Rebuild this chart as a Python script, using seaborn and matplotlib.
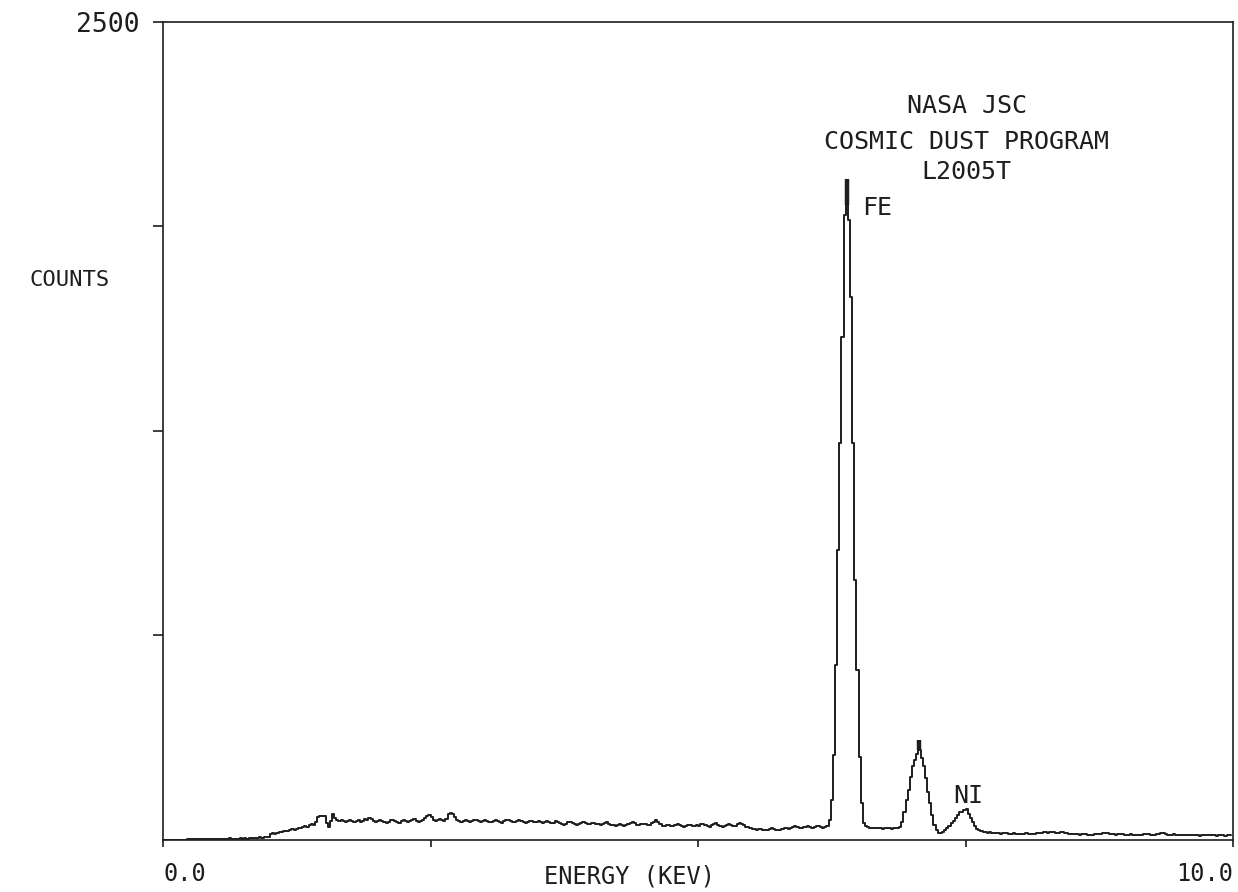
import numpy as np
import pandas as pd
import seaborn as sns
import matplotlib
matplotlib.use("Agg")
import matplotlib.pyplot as plt

# EDS spectrum, 20 eV channels from 0.00 to 9.98 keV
counts = [
    0, 0, 0, 0, 0, 0, 0, 0, 0, 0, 1, 2, 3, 3, 2, 3, 4, 3, 3, 2, 3, 3, 4, 3, 3,
    3, 4, 3, 4, 3, 4, 5, 4, 3, 4, 4, 5, 4, 5, 4, 5, 6, 5, 6, 7, 8, 7, 9, 10, 9,
    18, 20, 19, 22, 24, 23, 26, 28, 27, 30, 33, 31, 35, 38, 36, 40, 43, 41, 46, 49, 47, 55, 70, 74, 73,
    72, 52, 40, 58, 80, 66, 60, 57, 61, 58, 55, 59, 62, 57, 55, 58, 60, 56, 59, 63, 61, 66, 64, 58, 55,
    57, 60, 58, 55, 52, 56, 60, 62, 58, 54, 53, 57, 60, 58, 55, 57, 61, 63, 59, 56, 58, 62, 66, 72, 76,
    70, 60, 58, 62, 64, 60, 58, 65, 78, 82, 80, 70, 62, 58, 55, 57, 60, 58, 56, 59, 62, 60, 57, 55, 58,
    60, 57, 54, 56, 59, 61, 58, 55, 53, 57, 60, 62, 59, 56, 54, 57, 61, 58, 55, 53, 56, 59, 57, 54, 56,
    58, 55, 53, 56, 58, 54, 51, 53, 57, 55, 52, 48, 47, 50, 54, 56, 52, 49, 47, 50, 53, 55, 51, 48, 50,
    51, 53, 50, 48, 46, 49, 52, 54, 50, 47, 45, 44, 46, 48, 45, 43, 46, 50, 53, 55, 51, 47, 45, 48, 50,
    48, 45, 47, 52, 56, 60, 55, 48, 44, 42, 45, 47, 44, 42, 45, 48, 46, 43, 41, 44, 47, 45, 42, 44, 46,
    44, 48, 50, 46, 43, 41, 45, 49, 51, 47, 43, 40, 42, 46, 48, 45, 42, 44, 48, 52, 50, 45, 41, 39, 37,
    35, 33, 31, 33, 35, 32, 30, 31, 34, 36, 33, 31, 30, 32, 35, 38, 36, 34, 37, 40, 43, 41, 38, 36, 39,
    41, 43, 40, 38, 41, 44, 42, 39, 37, 40, 43, 61, 122, 260, 535, 886, 1213, 1537, 1910, 1940, 1895, 1659, 1213, 795, 520,
    254, 113, 52, 43, 40, 38, 37, 36, 38, 37, 36, 35, 37, 38, 36, 35, 37, 38, 37, 40, 55, 86, 122, 153, 193,
    226, 244, 263, 275, 250, 226, 189, 147, 113, 76, 46, 31, 21, 21, 24, 31, 37, 43, 52, 58, 67, 76, 86, 86, 92,
    95, 80, 67, 55, 43, 34, 31, 28, 25, 24, 22, 23, 21, 20, 22, 21, 19, 20, 22, 21, 19, 18, 20, 19, 18,
    18, 17, 19, 20, 19, 18, 17, 19, 21, 20, 22, 24, 23, 22, 24, 25, 23, 22, 21, 23, 24, 22, 20, 19, 18,
    17, 18, 17, 16, 17, 18, 17, 16, 15, 16, 17, 18, 17, 19, 20, 22, 21, 19, 18, 17, 16, 17, 18, 17, 16,
    15, 16, 17, 16, 15, 14, 15, 16, 17, 18, 17, 16, 15, 16, 17, 19, 21, 20, 18, 16, 15, 16, 17, 16, 15,
    14, 15, 16, 15, 14, 15, 16, 15, 14, 13, 14, 15, 16, 15, 14, 15, 14, 13, 14, 15, 14, 13, 14, 15, 14,
]
channel_kev = 0.02

# peak markers (thick bars on top of the peaks)
marker_kev = [6.39, 7.07]
marker_top = [2020, 306]
marker_base = [1940, 275]

peak_labels = ["FE", "NI"]
peak_label_kev = [6.53, 7.39]
peak_label_counts = [1931, 134]

title_lines = ["NASA JSC", "COSMIC DUST PROGRAM", "L2005T"]
title_counts = [2243, 2133, 2041]

spec = pd.DataFrame({"energy": np.arange(len(counts)) * channel_kev, "counts": counts})

sns.set_style("ticks")
plt.rcParams["font.family"] = ["DejaVu Sans Mono", "DejaVu Sans"]
ink = "#1e1e1e"

fig = plt.figure(figsize=(12.38, 8.92), dpi=100)
ax = fig.add_axes([163 / 1238, 1 - 840 / 892, 1070 / 1238, (840 - 21.7) / 892])

sns.lineplot(data=spec, x="energy", y="counts", ax=ax, color=ink,
             linewidth=1.4, drawstyle="steps-post", estimator=None)
ax.vlines(marker_kev, marker_base, marker_top, color=ink, linewidth=3.2)

ax.set_xlim(0, 10)
ax.set_ylim(0, 2500)

ax.set_xticks([0, 2.5, 5, 7.5, 10])
ax.set_xticklabels(["0.0", "", "", "", "10.0"])
ax.set_yticks([625, 1250, 1875, 2500])
ax.set_yticklabels(["", "", "", "2500"])
ax.tick_params(axis="y", direction="out", length=7, width=1.2, pad=10,
               labelsize=19, colors=ink)
ax.tick_params(axis="x", direction="out", length=5, width=1.2, pad=11,
               labelsize=17, colors=ink)
xl = ax.get_xticklabels()
xl[0].set_horizontalalignment("left")
xl[-1].set_horizontalalignment("right")

for s in ax.spines.values():
    s.set_visible(True)
    s.set_color(ink)
    s.set_linewidth(1.2)

ax.set_xlabel("ENERGY (KEV)", fontsize=17, color=ink, va="center")
ax.xaxis.set_label_coords(0.436, -0.045)
ax.set_ylabel("COUNTS", fontsize=16, color=ink, rotation=0, va="center", ha="center")
ax.yaxis.set_label_coords(-0.087, 0.684)

for line, yc in zip(title_lines, title_counts):
    ax.text(7.51, yc, line, ha="center", va="center", fontsize=18, color=ink)
for lab, xe, yc in zip(peak_labels, peak_label_kev, peak_label_counts):
    ax.text(xe, yc, lab, ha="left", va="center", fontsize=18, color=ink)

fig.savefig("out.png", dpi=100)
